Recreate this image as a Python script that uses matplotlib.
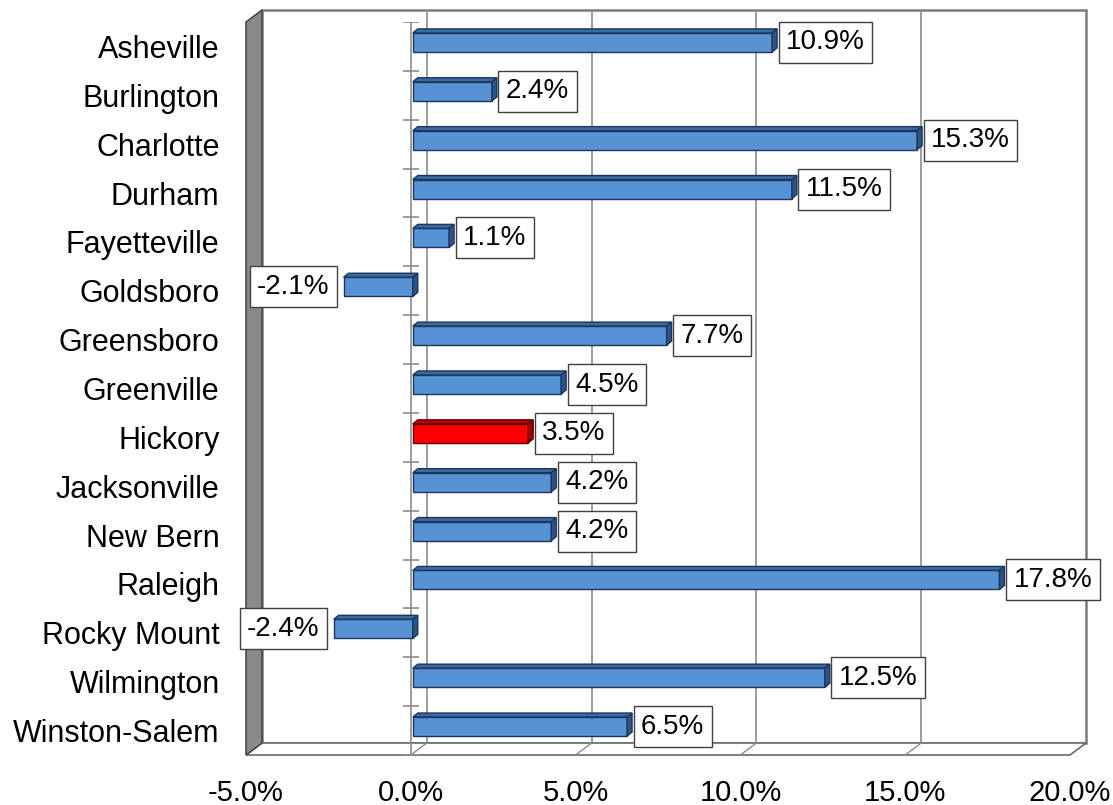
import numpy as np
import matplotlib
matplotlib.use("Agg")
import matplotlib.pyplot as plt
from matplotlib.patches import Polygon, Rectangle
from matplotlib.transforms import offset_copy, IdentityTransform

cities = ["Asheville", "Burlington", "Charlotte", "Durham", "Fayetteville",
          "Goldsboro", "Greensboro", "Greenville", "Hickory", "Jacksonville",
          "New Bern", "Raleigh", "Rocky Mount", "Wilmington", "Winston-Salem"]
growth = [10.9, 2.4, 15.3, 11.5, 1.1, -2.1, 7.7, 4.5, 3.5, 4.2, 4.2, 17.8, -2.4, 12.5, 6.5]
highlight = "Hickory"

x_ticks = [-5, 0, 5, 10, 15, 20]
grid_x = [0, 5, 10, 15]

plt.rcParams['font.family'] = ['Liberation Sans', 'DejaVu Sans']
plt.rcParams['font.size'] = 20

fig = plt.figure(figsize=(11.13, 8.05), dpi=100)
# front plane of the pseudo-3d box
ax = fig.add_axes([246 / 1113, 50 / 805, 824 / 1113, 733 / 805])
n = len(cities)
ax.set_xlim(x_ticks[0], x_ticks[-1])
ax.set_ylim(n - 0.5, -0.5)
ax.set_autoscale_on(False)
for s in ax.spines.values():
    s.set_visible(False)
ax.patch.set_visible(False)

DX, DY = 16, 12      # depth of the box in pixels
BX, BY = 5, 4        # depth of the bars
SHIFT_X, SHIFT_Y = 2, 4   # bars sit a little behind the front plane

grey = '#8c8c8c'
back = offset_copy(ax.transData, fig=fig, x=DX, y=DY, units='dots')


def px(x, y, dx=0, dy=0):
    X, Y = ax.transData.transform((x, y))
    return (X + dx, Y + dy)


def poly(pts, **kw):
    p = Polygon(pts, closed=True, transform=IdentityTransform(), clip_on=False, **kw)
    ax.add_patch(p)


xmin, xmax = x_ticks[0], x_ticks[-1]
ytop, ybot = -0.5, n - 0.5

# back wall + gridlines
ax.add_patch(Rectangle((xmin, ytop), xmax - xmin, ybot - ytop, transform=back,
                       fc='white', ec='#7a7a7a', lw=1.8, clip_on=False, zorder=0))
ax.vlines(grid_x, ytop, ybot, transform=back, color=grey, lw=1.2, zorder=0.5, clip_on=False)

# floor
poly([px(xmin, ybot), px(xmax, ybot), px(xmax, ybot, DX, DY), px(xmin, ybot, DX, DY)],
     fc='white', ec='#6a6a6a', lw=1.2, zorder=0.6)
for gx in grid_x:
    a, b = px(gx, ybot), px(gx, ybot, DX, DY)
    ax.plot([a[0], b[0]], [a[1], b[1]], color=grey, lw=1.0, transform=IdentityTransform(),
            clip_on=False, zorder=0.7)

# left side wall
poly([px(xmin, ytop), px(xmin, ybot), px(xmin, ybot, DX, DY), px(xmin, ytop, DX, DY)],
     fc='#8a8a8a', ec='#4a4a4a', lw=1.2, zorder=0.8)

# value axis at zero with category ticks
ax.plot([0, 0], [ytop, ybot], color=grey, lw=1.2, zorder=1)
ax.plot(np.zeros(n + 1), np.arange(n + 1) - 0.5, ls='none', marker='_', ms=12, mew=1.2,
        color=grey, zorder=1)

# bars
front_col = ['#ff0000' if c == highlight else '#5793d4' for c in cities]
top_col = ['#c00000' if c == highlight else '#3a6aa6' for c in cities]
side_col = ['#a00000' if c == highlight else '#2c5488' for c in cities]
edge_col = ['#600000' if c == highlight else '#1c3558' for c in cities]
bar_h = 0.39
bar_tr = offset_copy(ax.transData, fig=fig, x=SHIFT_X, y=SHIFT_Y, units='dots')
ax.barh(np.arange(n), growth, height=bar_h, color=front_col, edgecolor=edge_col,
        lw=1.0, transform=bar_tr, zorder=2)

for i, v in enumerate(growth):
    lo, hi = min(0, v), max(0, v)
    x0, y_a = px(lo, i - bar_h / 2, SHIFT_X, SHIFT_Y)
    x1, y_b = px(hi, i + bar_h / 2, SHIFT_X, SHIFT_Y)
    yt, yb = max(y_a, y_b), min(y_a, y_b)
    poly([(x0, yt), (x1, yt), (x1 + BX, yt + BY), (x0 + BX, yt + BY)],
         fc=top_col[i], ec=edge_col[i], lw=1.0, zorder=2)
    poly([(x1, yb), (x1, yt), (x1 + BX, yt + BY), (x1 + BX, yb + BY)],
         fc=side_col[i], ec=edge_col[i], lw=1.0, zorder=2)

    off = SHIFT_X + BX + 9 if v >= 0 else SHIFT_X - 14
    tr = offset_copy(ax.transData, fig=fig, x=off, y=SHIFT_Y, units='dots')
    ax.text(v, i, f"{v:.1f}%", transform=tr, ha='left' if v >= 0 else 'right', va='center',
            fontsize=20,
            bbox=dict(boxstyle='square,pad=0.27', fc='white', ec='#404040', lw=1.0),
            zorder=3, clip_on=False)

ax.set_xticks(x_ticks, labels=[f"{t:.1f}%" for t in x_ticks], fontsize=21)
ax.set_yticks(np.arange(n), labels=cities, fontsize=22)
ax.tick_params(axis='x', length=0, pad=17)
ax.tick_params(axis='y', length=0, pad=19)

fig.savefig("out.png", dpi=100)
